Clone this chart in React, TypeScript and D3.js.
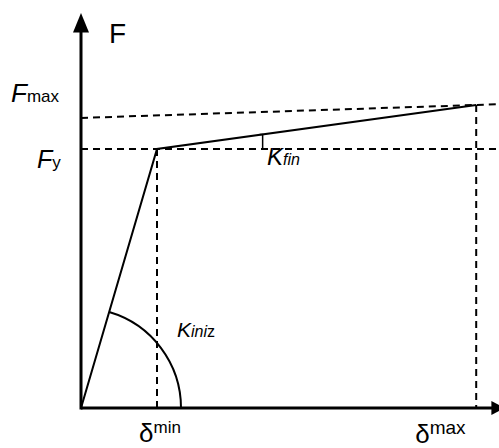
import * as d3 from 'd3'

// bilinear force-displacement law (displacement in units of yield displacement, force in units of Fy)
const displacement = [0, 1, 5.2]
const force = [0, 1, 1.17]
const fmaxAxisIntercept = 1.12
const kfinMarkAt = 2.39

const yLabels = [
    { main: 'F', sub: 'max', value: 1.2 },
    { main: 'F', sub: 'y', value: 0.97 },
]
const xLabels = [
    { main: 'δ', sup: 'min', value: 1 },
    { main: 'δ', sup: 'max', value: 5.2 },
]
const axisTitle = 'F'

const W = 499
const H = 448
const FONT = 'Liberation Sans, Arial, sans-serif'

const x = d3.scaleLinear().domain([0, 5.5]).range([81, 499])
const y = d3.scaleLinear().domain([0, 1.5]).range([408, 19.5])

const dash = { stroke: '#000', strokeWidth: 2, strokeDasharray: '7,5', fill: 'none' }

const App = () => {
    const line = d3.line<number>()
        .x((_, i) => x(displacement[i]))
        .y(d => y(d))

    const slope = (force[2] - fmaxAxisIntercept) / displacement[2]
    const xEnd = x.domain()[1]

    // K_iniz arc around the origin, from the initial branch down to the x axis
    const ox = x(0), oy = y(0)
    const a0 = Math.atan2(y(force[1]) - oy, x(displacement[1]) - ox)
    const r = 100
    const arc = d3.path()
    arc.moveTo(ox + r * Math.cos(a0), oy + r * Math.sin(a0))
    arc.arc(ox, oy, r, a0, 0, false)

    const kfY = force[1] + (force[2] - force[1]) * (kfinMarkAt - displacement[1]) / (displacement[2] - displacement[1])

    return (
        <svg width={W} height={H} style={{ position: 'absolute', left: 0, top: 0, background: '#fff' }} fontFamily={FONT}>
            {/* dashed guides */}
            <line x1={x(0)} x2={x(xEnd)} y1={y(force[1])} y2={y(force[1])} {...dash} />
            <line x1={x(0)} x2={x(xEnd)} y1={y(fmaxAxisIntercept)} y2={y(fmaxAxisIntercept + slope * xEnd)} {...dash} />
            <line x1={x(displacement[1])} x2={x(displacement[1])} y1={y(force[1])} y2={y(0)} {...dash} />
            <line x1={x(displacement[2])} x2={x(displacement[2])} y1={y(force[2])} y2={y(0)} {...dash} />

            {/* curve */}
            <path d={line(force) || ''} fill="none" stroke="#000" strokeWidth={2} />
            <path d={arc.toString()} fill="none" stroke="#000" strokeWidth={2} />
            <path d={`M${x(kfinMarkAt) - 3},${y(kfY)}H${x(kfinMarkAt)}V${y(force[1])}`} fill="none" stroke="#000" strokeWidth={1.5} />

            {/* axes */}
            <line x1={x(0)} x2={x(0)} y1={y(0) + 1.5} y2={y(1.46)} stroke="#000" strokeWidth={3} />
            <path d={`M${x(0)},${y(1.525)}L${x(0) + 8},${y(1.45)}L${x(0) - 8},${y(1.45)}Z`} fill="#000" />
            <line x1={x(0)} x2={x(5.42)} y1={y(0)} y2={y(0)} stroke="#000" strokeWidth={3} />
            <path d={`M${x(5.58)},${y(0)}L${x(5.4)},${y(0) - 7}L${x(5.4)},${y(0) + 7}Z`} fill="#000" />

            {/* labels */}
            <text x={109} y={43} fontSize={28}>{axisTitle}</text>
            <text x={11} y={102}>
                <tspan fontSize={26} fontStyle="italic">{yLabels[0].main}</tspan>
                <tspan fontSize={17}>{yLabels[0].sub}</tspan>
            </text>
            <text x={37} y={168}>
                <tspan fontSize={25} fontStyle="italic">{yLabels[1].main}</tspan>
                <tspan fontSize={17}>{yLabels[1].sub}</tspan>
            </text>
            <text x={267} y={165} fontStyle="italic">
                <tspan fontSize={24}>K</tspan>
                <tspan fontSize={16}>fin</tspan>
            </text>
            <text x={177} y={337}>
                <tspan fontSize={21} fontStyle="italic">K</tspan>
                <tspan fontSize={16} fontStyle="italic">ini</tspan>
                <tspan fontSize={16}>z</tspan>
            </text>
            <text x={x(xLabels[0].value) - 18} y={442}>
                <tspan fontSize={26}>{xLabels[0].main}</tspan>
                <tspan fontSize={17} dy={-9}>{xLabels[0].sup}</tspan>
            </text>
            <text x={x(xLabels[1].value) - 61} y={443}>
                <tspan fontSize={26}>{xLabels[1].main}</tspan>
                <tspan fontSize={19} dy={-9}>{xLabels[1].sup}</tspan>
            </text>
        </svg>
    )
}

export default App
